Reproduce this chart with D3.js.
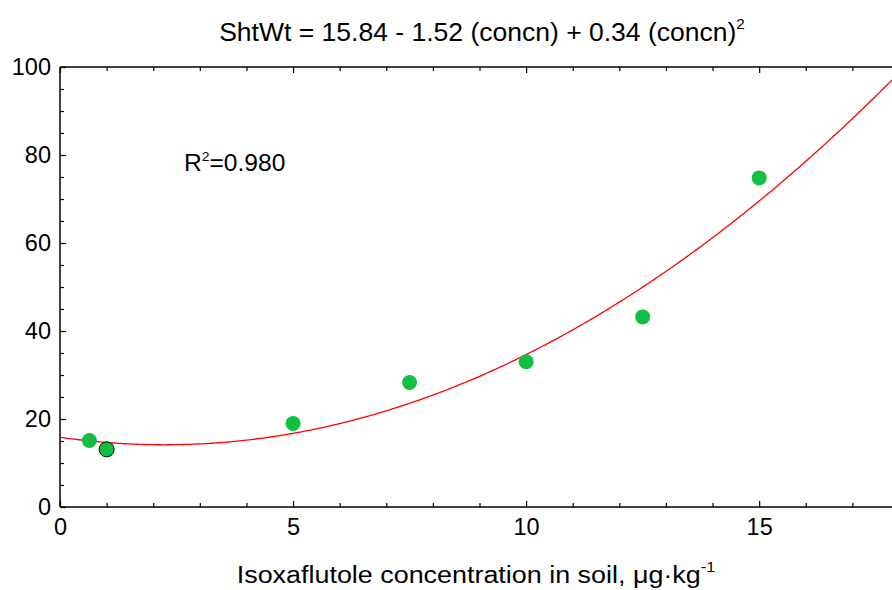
<!DOCTYPE html>
<html><head><meta charset="utf-8">
<script src="https://cdn.jsdelivr.net/npm/d3@7"></script>
<style>
html,body{margin:0;padding:0;background:#fff;}
text{font-family:"Liberation Sans",Arial,sans-serif;fill:#000;}
</style></head>
<body><svg id="c" width="892" height="590"></svg>
<script>
// Data
const concentration = [0.63, 1, 5, 7.5, 10, 12.5, 15];
const shootWeight   = [15.1, 13.1, 19.0, 28.3, 33.0, 43.2, 74.8];
const outlined      = [false, true, false, false, false, false, false];
const fitCoefficients = [15.84, -1.52, 0.34]; // from the equation shown in the title
const xTicks = [0, 5, 10, 15];
const yTicks = [0, 20, 40, 60, 80, 100];

const svg = d3.select("#c");
const L = 60, R = 892, T = 67, B = 507;
const x = d3.scaleLinear().domain([0, 17.85]).range([L, R]);
const y = d3.scaleLinear().domain([0, 100]).range([B, T]);

// frame
const g = svg.append("g");
g.append("line").attr("x1",L).attr("x2",R).attr("y1",T).attr("y2",T).attr("stroke","#000").attr("stroke-width",1.5);
g.append("line").attr("x1",L).attr("x2",R).attr("y1",B).attr("y2",B).attr("stroke","#000").attr("stroke-width",1.5);
g.append("line").attr("x1",L).attr("x2",L).attr("y1",T).attr("y2",B).attr("stroke","#000").attr("stroke-width",1.5);

// axes with inward ticks
const xMinor = d3.range(0, 18, 1);
const yMinor = d3.range(0, 101, 5);
const xb = svg.append("g").attr("transform",`translate(0,${B})`)
  .call(d3.axisBottom(x).tickValues(xTicks).tickSizeInner(-6).tickSizeOuter(0).tickPadding(11).tickFormat(d3.format("d")));
xb.select(".domain").remove();
xb.selectAll("text").style("font-size","23.5px");
svg.append("g").attr("transform",`translate(0,${B})`)
  .call(d3.axisBottom(x).tickValues(xMinor.filter(v=>v%5)).tickSizeInner(-4).tickSizeOuter(0).tickFormat(""))
  .select(".domain").remove();
svg.append("g").attr("transform",`translate(0,${T})`)
  .call(d3.axisTop(x).tickValues(xTicks).tickSizeInner(-6).tickSizeOuter(0).tickFormat(""))
  .select(".domain").remove();
svg.append("g").attr("transform",`translate(0,${T})`)
  .call(d3.axisTop(x).tickValues(xMinor.filter(v=>v%5)).tickSizeInner(-4).tickSizeOuter(0).tickFormat(""))
  .select(".domain").remove();
const yl = svg.append("g").attr("transform",`translate(${L},0)`)
  .call(d3.axisLeft(y).tickValues(yTicks).tickSizeInner(-6).tickSizeOuter(0).tickPadding(9).tickFormat(d3.format("d")));
yl.select(".domain").remove();
yl.selectAll("text").style("font-size","23.5px");
svg.append("g").attr("transform",`translate(${L},0)`)
  .call(d3.axisLeft(y).tickValues(yMinor.filter(v=>v%20)).tickSizeInner(-4).tickSizeOuter(0).tickFormat(""))
  .select(".domain").remove();
svg.selectAll(".tick line").attr("stroke","#000").attr("stroke-width",1.2);

// fitted curve
const fit = v => fitCoefficients[0] + fitCoefficients[1]*v + fitCoefficients[2]*v*v;
const xs = d3.range(0, 17.85 + 1e-9, 0.05);
svg.append("path").datum(xs)
  .attr("d", d3.line().x(d=>x(d)).y(d=>y(fit(d))))
  .attr("fill","none").attr("stroke","#ff0000").attr("stroke-width",1.3);

// points
svg.append("g").selectAll("circle").data(concentration).join("circle")
  .attr("cx",(d)=>x(d)).attr("cy",(d,i)=>y(shootWeight[i])).attr("r",7.5)
  .attr("fill","#12bf45")
  .attr("stroke",(d,i)=>outlined[i]?"#000":"none").attr("stroke-width",1);

// title
const tg = svg.append("g").attr("transform","translate(482,41) scale(1.02,1)");
const t = tg.append("text").attr("x",0).attr("y",0).attr("text-anchor","middle").style("font-size","26px");
t.append("tspan").text("ShtWt = 15.84 - 1.52 (concn) + 0.34 (concn)");
t.append("tspan").attr("dy",-12).style("font-size","15px").text("2");

// R2
const rg = svg.append("g").attr("transform","translate(184,171) scale(1.07,1)");
const r2 = rg.append("text").attr("x",0).attr("y",0).style("font-size","23px");
r2.append("tspan").text("R");
r2.append("tspan").attr("dy",-10).style("font-size","13px").text("2");
r2.append("tspan").attr("dy",10).text("=0.980");

// x label
const lg = svg.append("g").attr("transform","translate(476,583) scale(1.17,1)");
const xl = lg.append("text").attr("x",0).attr("y",0).attr("text-anchor","middle").style("font-size","23px");
xl.append("tspan").text("Isoxaflutole concentration in soil, μg·kg");
xl.append("tspan").attr("dy",-11).style("font-size","14px").text("-1");
</script></body></html>
